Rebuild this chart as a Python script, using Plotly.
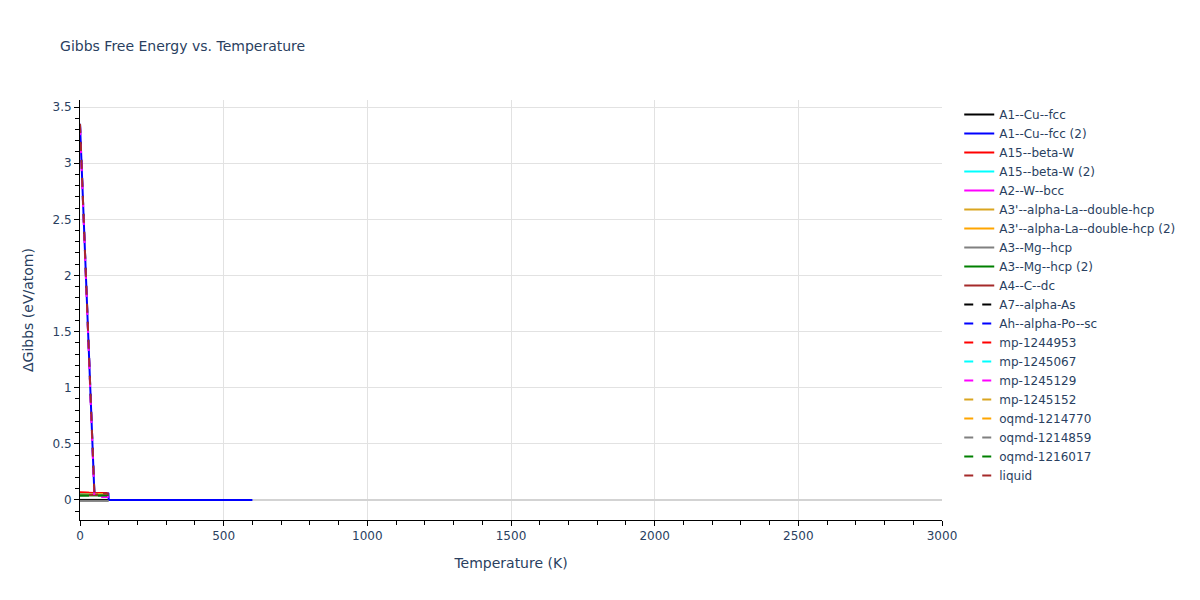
import plotly.graph_objects as go

# Temperature grids (K)
T_short = [0, 50, 100]
T_fcc2 = [0, 50, 99, 100, 150, 200, 250, 300, 350, 400, 450, 500, 550, 600]

# Delta Gibbs values (eV/atom)
A1_Cu_fcc = [0.0, 0.0, 0.0]
A1_Cu_fcc_2 = [3.35, 0.062, 0.055, 0.0, 0.0, 0.0, 0.0, 0.0, 0.0, 0.0, 0.0, 0.0, 0.0, 0.0]
A15_beta_W = [0.065, 0.062, 0.058]
A15_beta_W_2 = [0.05, 0.05, 0.05]
A2_W_bcc = [0.045, 0.042, 0.042]
A3p_La_dhcp = [0.045, 0.045, 0.045]
A3p_La_dhcp_2 = [0.047, 0.05, 0.052]
A3_Mg_hcp = [-0.009, -0.009, -0.009]
A3_Mg_hcp_2 = [0.04, 0.04, 0.04]
A4_C_dc = [0.042, 0.045, 0.05]
A7_alpha_As = [0.06, 0.058, 0.056]
Ah_alpha_Po_sc = [3.35, 0.062, 0.055]
mp_1244953 = [0.065, 0.062, 0.058]
mp_1245067 = [0.05, 0.05, 0.05]
mp_1245129 = [3.33, 0.025, 0.025]
mp_1245152 = [0.045, 0.045, 0.045]
oqmd_1214770 = [0.047, 0.05, 0.052]
oqmd_1214859 = [0.042, 0.042, 0.042]
oqmd_1216017 = [0.04, 0.04, 0.04]
liquid = [3.35, 0.062, 0.055]

series = [
    ("A1--Cu--fcc", T_short, A1_Cu_fcc, "black", "solid"),
    ("A1--Cu--fcc (2)", T_fcc2, A1_Cu_fcc_2, "blue", "solid"),
    ("A15--beta-W", T_short, A15_beta_W, "red", "solid"),
    ("A15--beta-W (2)", T_short, A15_beta_W_2, "cyan", "solid"),
    ("A2--W--bcc", T_short, A2_W_bcc, "magenta", "solid"),
    ("A3'--alpha-La--double-hcp", T_short, A3p_La_dhcp, "goldenrod", "solid"),
    ("A3'--alpha-La--double-hcp (2)", T_short, A3p_La_dhcp_2, "orange", "solid"),
    ("A3--Mg--hcp", T_short, A3_Mg_hcp, "gray", "solid"),
    ("A3--Mg--hcp (2)", T_short, A3_Mg_hcp_2, "green", "solid"),
    ("A4--C--dc", T_short, A4_C_dc, "brown", "solid"),
    ("A7--alpha-As", T_short, A7_alpha_As, "black", "dash"),
    ("Ah--alpha-Po--sc", T_short, Ah_alpha_Po_sc, "blue", "dash"),
    ("mp-1244953", T_short, mp_1244953, "red", "dash"),
    ("mp-1245067", T_short, mp_1245067, "cyan", "dash"),
    ("mp-1245129", T_short, mp_1245129, "magenta", "dash"),
    ("mp-1245152", T_short, mp_1245152, "goldenrod", "dash"),
    ("oqmd-1214770", T_short, oqmd_1214770, "orange", "dash"),
    ("oqmd-1214859", T_short, oqmd_1214859, "gray", "dash"),
    ("oqmd-1216017", T_short, oqmd_1216017, "green", "dash"),
    ("liquid", T_short, liquid, "brown", "dash"),
]

fig = go.Figure()
for name, x, y, color, dash in series:
    fig.add_trace(go.Scatter(x=x, y=y, mode="lines", name=name,
                             line=dict(color=color, width=2, dash=dash)))

axis_common = dict(showline=True, linecolor="black", linewidth=1,
                   ticks="outside", tickcolor="black", ticklen=5,
                   showgrid=True, gridcolor="#E2E2E2", gridwidth=1,
                   zeroline=True, zerolinecolor="#D3D3D3", zerolinewidth=2)

fig.update_layout(
    template="plotly_white",
    font=dict(family="DejaVu Sans, Verdana, sans-serif"),
    title=dict(text="Gibbs Free Energy vs. Temperature", x=0.044, y=0.935,
               yanchor="middle", font=dict(size=14)),
    margin=dict(l=72, r=80, t=92, b=72),
    xaxis=dict(title=dict(text="Temperature (K)"), range=[0, 3000], dtick=500,
               minor=dict(dtick=100, ticks="outside", ticklen=4, tickcolor="black", showgrid=False),
               **axis_common),
    yaxis=dict(title=dict(text="ΔGibbs (eV/atom)"), range=[-0.179, 3.563], dtick=0.5,
               minor=dict(dtick=0.1, ticks="outside", ticklen=4, tickcolor="black", showgrid=False),
               **axis_common),
    legend=dict(font=dict(size=12)),
    plot_bgcolor="white", paper_bgcolor="white",
)

fig.write_html("out.html")
